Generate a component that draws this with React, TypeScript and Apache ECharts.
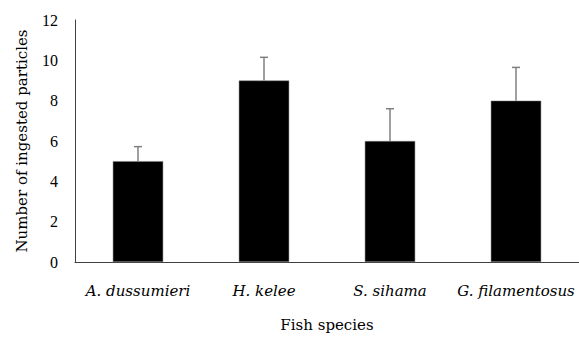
import React, { useEffect, useRef } from "react";
import * as echarts from "echarts";

const categories = ["A. dussumieri", "H. kelee", "S. sihama", "G. filamentosus"];
const means = [5, 9, 6, 8];
const errors = [0.72, 1.15, 1.6, 1.65];
const yTicks = [0, 2, 4, 6, 8, 10, 12];

const FONT = "DejaVu Serif";
const TICK_FONT = "Liberation Serif";

export default function App() {
  const ref = useRef<HTMLDivElement>(null);
  useEffect(() => {
    if (!ref.current) return;
    const chart = echarts.init(ref.current, null, { renderer: "svg" });
    const errData = means.map((m, i) => [i, m, m + errors[i]]);
    chart.setOption({
      animation: false,
      grid: { left: 75, right: 0, top: 20, bottom: 73 },
      xAxis: {
        type: "category",
        data: categories,
        name: "Fish species",
        nameLocation: "middle",
        nameGap: 55,
        nameTextStyle: { fontFamily: FONT, fontSize: 15, color: "#000" },
        axisTick: { show: false },
        axisLine: { lineStyle: { color: "#404040", width: 1 } },
        axisLabel: {
          interval: 0,
          fontFamily: FONT,
          fontStyle: "italic",
          fontSize: 15,
          color: "#000",
          margin: 21,
        },
      },
      yAxis: {
        type: "value",
        min: yTicks[0],
        max: yTicks[yTicks.length - 1],
        interval: 2,
        name: "Number of ingested particles",
        nameLocation: "middle",
        nameGap: 46,
        nameTextStyle: { fontFamily: FONT, fontSize: 15, color: "#000" },
        splitLine: { show: false },
        axisTick: { show: false },
        axisLine: { show: true, lineStyle: { color: "#404040", width: 1 } },
        axisLabel: { fontFamily: TICK_FONT, fontSize: 16, color: "#000", margin: 17 },
      },
      series: [
        {
          type: "bar",
          data: means,
          barWidth: "40%",
          itemStyle: { color: "#000", borderColor: "#808080", borderWidth: 0.5 },
        },
        {
          type: "custom",
          data: errData,
          z: 10,
          renderItem: (params: any, api: any) => {
            const x = api.value(0);
            const lo = api.coord([x, api.value(1)]);
            const hi = api.coord([x, api.value(2)]);
            const cap = 4;
            const style = { stroke: "#808080", lineWidth: 1.5 };
            return {
              type: "group",
              children: [
                { type: "line", shape: { x1: lo[0], y1: lo[1], x2: hi[0], y2: hi[1] }, style },
                { type: "line", shape: { x1: hi[0] - cap, y1: hi[1], x2: hi[0] + cap, y2: hi[1] }, style },
              ],
            };
          },
        },
      ],
    });
    return () => chart.dispose();
  }, []);
  return <div ref={ref} style={{ width: 579, height: 337, position: "absolute", left: 0, top: 0 }} />;
}
